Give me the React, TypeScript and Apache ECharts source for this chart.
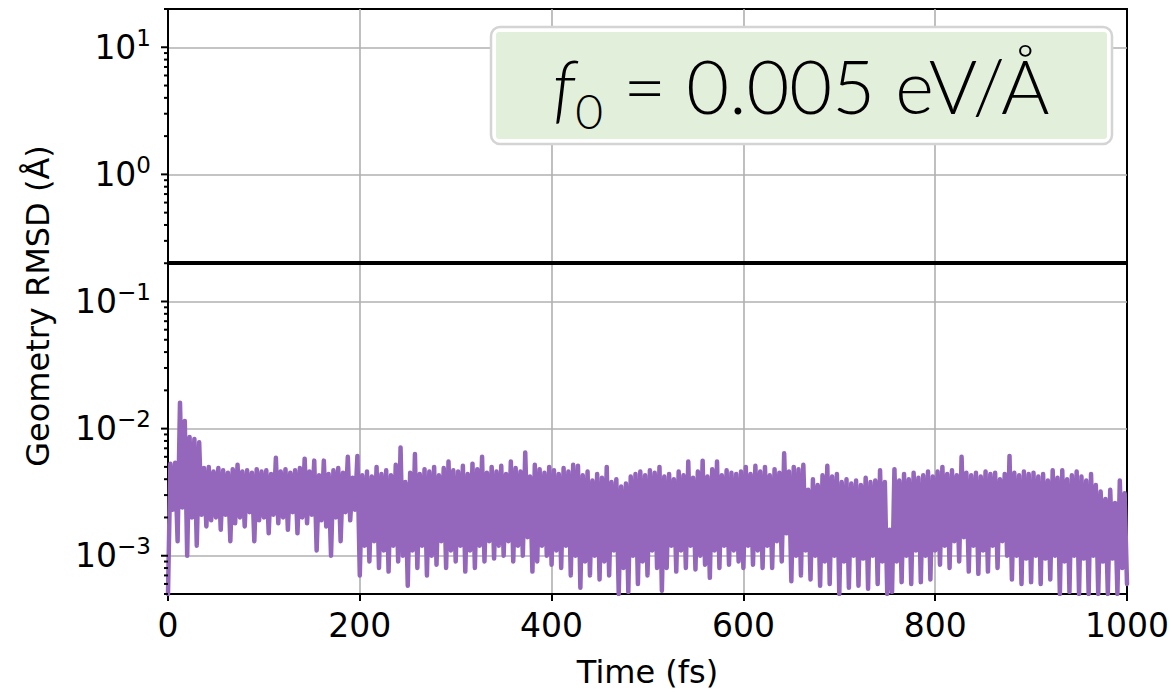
import React, { useEffect, useRef } from 'react';
import * as echarts from 'echarts';

// Sampling interval of the trajectory (fs)
const TIME_STEP = 2.5;

// Geometry RMSD samples in units of 1e-3 Å, one block per 100 fs
const rmsd000 = [0.5, 5.3, 2.3, 5.4, 1.3, 16.0, 2.4, 11.5, 1.0, 8.6, 2.0, 8.3, 1.2, 7.8, 2.1, 4.9, 1.7, 5.0, 1.9, 4.6, 2.0, 4.9, 1.6, 4.7, 2.1, 4.5, 1.3, 4.8, 1.8, 5.2, 2.0, 4.6, 1.7, 4.7, 2.2, 4.5, 1.3, 4.8, 1.9, 4.6];
const rmsd100 = [2.0, 4.7, 1.5, 4.4, 2.1, 5.9, 1.8, 4.6, 2.0, 4.8, 1.6, 4.5, 2.2, 4.7, 1.5, 4.9, 2.0, 5.8, 1.8, 4.6, 2.1, 5.6, 1.1, 4.3, 1.9, 5.6, 1.7, 4.4, 1.0, 4.7, 2.0, 4.9, 1.3, 4.5, 2.2, 6.0, 1.9, 4.1, 2.3, 6.1];
const rmsd200 = [0.7, 4.3, 1.2, 4.6, 0.9, 4.2, 1.3, 5.0, 0.8, 4.4, 1.1, 4.7, 0.75, 4.3, 1.2, 5.2, 0.9, 7.1, 1.0, 3.8, 0.58, 4.5, 1.1, 6.3, 0.8, 4.4, 1.2, 4.8, 0.7, 4.6, 1.0, 5.0, 0.85, 4.3, 1.3, 4.9, 0.8, 5.5, 1.1, 4.7];
const rmsd300 = [0.9, 4.6, 1.2, 5.1, 0.75, 4.4, 1.1, 5.3, 0.8, 4.8, 1.2, 6.0, 0.9, 4.5, 1.3, 5.0, 0.95, 4.6, 1.2, 5.1, 1.0, 4.4, 1.3, 5.5, 0.9, 4.9, 1.2, 4.6, 1.0, 6.5, 1.4, 4.2, 0.75, 5.2, 0.9, 4.8, 1.2, 4.5, 1.0, 5.0];
const rmsd400 = [0.85, 4.7, 1.1, 4.4, 0.8, 4.9, 1.2, 4.6, 0.7, 5.2, 1.0, 5.1, 0.56, 4.3, 0.9, 4.6, 0.7, 3.9, 1.0, 4.4, 0.65, 4.1, 0.9, 5.0, 0.7, 3.8, 1.1, 4.0, 0.5, 3.5, 0.8, 3.7, 0.52, 4.2, 1.0, 4.4, 0.6, 4.6, 0.9, 4.3];
const rmsd500 = [0.7, 4.7, 1.1, 4.5, 0.8, 5.0, 0.53, 4.2, 0.8, 4.4, 1.2, 4.0, 0.75, 4.6, 1.1, 4.3, 0.8, 5.5, 1.2, 4.1, 0.78, 4.6, 1.0, 5.6, 0.85, 4.2, 0.67, 4.8, 1.1, 5.5, 0.8, 4.3, 1.2, 4.7, 0.85, 4.5, 1.1, 4.4, 0.9, 4.6];
const rmsd600 = [0.8, 5.0, 1.2, 4.4, 0.85, 5.1, 1.1, 4.6, 0.8, 5.0, 1.2, 4.3, 0.8, 4.8, 1.3, 4.5, 0.9, 6.4, 1.5, 4.6, 0.63, 5.0, 1.0, 4.8, 0.7, 5.2, 1.1, 3.3, 0.65, 4.0, 1.0, 3.6, 0.58, 4.3, 0.9, 5.1, 0.6, 4.2, 1.0, 4.4];
const rmsd700 = [0.5, 3.8, 0.9, 4.0, 0.56, 3.7, 1.0, 3.9, 0.58, 3.6, 0.95, 4.1, 0.55, 3.8, 1.0, 3.9, 0.6, 4.7, 0.9, 3.8, 0.5, 1.6, 0.52, 4.8, 0.9, 3.9, 0.62, 4.4, 1.0, 4.0, 0.6, 4.5, 1.1, 4.1, 0.62, 4.3, 1.0, 4.6, 0.65, 4.2];
const rmsd800 = [1.1, 4.6, 0.85, 5.0, 1.2, 4.4, 0.8, 4.7, 1.3, 4.3, 0.9, 6.0, 1.4, 4.5, 0.75, 4.3, 1.2, 4.5, 0.72, 4.2, 1.1, 4.6, 0.75, 4.4, 1.2, 4.5, 0.8, 4.0, 1.3, 4.4, 1.0, 6.1, 0.65, 4.5, 1.0, 4.3, 0.6, 4.6, 0.95, 4.4];
const rmsd900 = [0.62, 4.5, 1.0, 4.2, 0.6, 4.4, 0.95, 3.9, 0.65, 4.7, 1.0, 4.1, 0.5, 4.7, 0.9, 4.0, 0.52, 4.3, 1.0, 4.6, 0.5, 4.2, 0.95, 3.9, 0.5, 4.4, 1.0, 3.6, 0.5, 3.2, 0.9, 2.8, 0.5, 3.3, 0.95, 2.6, 0.5, 3.9, 0.8, 3.1];
const rmsdEnd = 0.6; // sample at t = 1000 fs

const rmsdBlocks = [rmsd000, rmsd100, rmsd200, rmsd300, rmsd400, rmsd500, rmsd600, rmsd700, rmsd800, rmsd900];

// Horizontal reference level (Å)
const referenceLevel = 0.2;

// Axis ranges and ticks
const X_MIN = 0;
const X_MAX = 1000;
const X_INTERVAL = 200;
const Y_MIN = 5e-4;
const Y_MAX = 20;
const majorTickValues = [0.001, 0.01, 0.1, 1, 10];
const minorTickValues = [
  0.0005, 0.0006, 0.0007, 0.0008, 0.0009,
  0.002, 0.003, 0.004, 0.005, 0.006, 0.007, 0.008, 0.009,
  0.02, 0.03, 0.04, 0.05, 0.06, 0.07, 0.08, 0.09,
  0.2, 0.3, 0.4, 0.5, 0.6, 0.7, 0.8, 0.9,
  2, 3, 4, 5, 6, 7, 8, 9,
  20,
];

const FONT = 'DejaVu Sans';
const PURPLE = '#9467bd';
const GRID_GRAY = '#b0b0b0';

function buildSeries(): [number, number][] {
  const out: [number, number][] = [];
  rmsdBlocks.forEach((block, b) => {
    block.forEach((v, i) => {
      out.push([b * 100 + i * TIME_STEP, v * 1e-3]);
    });
  });
  out.push([X_MAX, rmsdEnd * 1e-3]);
  return out;
}

function decadeLabel(v: number): string {
  const e = Math.log10(v);
  const r = Math.round(e);
  if (Math.abs(e - r) > 1e-6) return '';
  return `{base|10}{sup|${r < 0 ? '\u2212' : ''}${Math.abs(r)}}`;
}

function tickRenderer(length: number) {
  return (_params: any, api: any) => {
    const p = api.coord([X_MIN, api.value(1)]);
    return {
      type: 'line',
      shape: { x1: p[0] - length, y1: p[1], x2: p[0], y2: p[1] },
      style: { stroke: '#000', lineWidth: 2 },
    };
  };
}

export default function App() {
  const ref = useRef<HTMLDivElement>(null);

  useEffect(() => {
    if (!ref.current) return;
    const chart = echarts.init(ref.current, undefined, { renderer: 'svg' });

    const option: any = {
      animation: false,
      backgroundColor: '#ffffff',
      grid: {
        left: 168,
        right: 45,
        top: 9,
        bottom: 103,
        show: true,
        borderColor: '#000',
        borderWidth: 2,
        backgroundColor: 'transparent',
        containLabel: false,
        outerBoundsMode: 'none',
      },
      xAxis: {
        type: 'value',
        min: X_MIN,
        max: X_MAX,
        interval: X_INTERVAL,
        name: 'Time (fs)',
        nameLocation: 'middle',
        nameGap: 62,
        nameTextStyle: { fontSize: 32, fontFamily: FONT, color: '#000' },
        axisLine: { show: true, onZero: false, lineStyle: { color: '#000', width: 2 } },
        axisTick: { show: true, length: 7, lineStyle: { color: '#000', width: 2 } },
        axisLabel: {
          fontSize: 33,
          fontFamily: FONT,
          color: '#000',
          margin: 15,
          formatter: (v: number) => String(v),
        },
        splitLine: {
          show: true,
          showMinLine: false,
          showMaxLine: false,
          lineStyle: { color: GRID_GRAY, width: 1.6 },
        },
      },
      yAxis: {
        type: 'log',
        logBase: 10,
        min: Y_MIN,
        max: Y_MAX,
        axisLine: { show: true, onZero: false, lineStyle: { color: '#000', width: 2 } },
        axisTick: { show: false },
        axisLabel: {
          margin: 17,
          formatter: decadeLabel,
          rich: {
            base: { fontSize: 33, fontFamily: FONT, color: '#000', lineHeight: 42 },
            sup: { fontSize: 23, fontFamily: FONT, color: '#000', lineHeight: 23, verticalAlign: 'top' },
          },
        },
        splitLine: {
          show: true,
          showMinLine: false,
          showMaxLine: false,
          lineStyle: { color: GRID_GRAY, width: 1.6 },
        },
      },
      series: [
        {
          name: 'RMSD',
          type: 'line',
          data: buildSeries(),
          showSymbol: false,
          symbol: 'none',
          z: 2,
          lineStyle: { color: PURPLE, width: 4.5, join: 'round', cap: 'round' },
          markLine: {
            silent: true,
            symbol: ['none', 'none'],
            label: { show: false },
            lineStyle: { color: '#000', width: 4, type: 'solid' },
            data: [{ yAxis: referenceLevel }],
          },
        },
        {
          name: 'major ticks',
          type: 'custom',
          coordinateSystem: 'cartesian2d',
          clip: false,
          silent: true,
          z: 5,
          data: majorTickValues.map((v) => [X_MIN, v]),
          renderItem: tickRenderer(7),
        },
        {
          name: 'minor ticks',
          type: 'custom',
          coordinateSystem: 'cartesian2d',
          clip: false,
          silent: true,
          z: 5,
          data: minorTickValues.map((v) => [X_MIN, v]),
          renderItem: tickRenderer(4),
        },
      ],
      graphic: [
        {
          type: 'text',
          x: 38,
          y: 306,
          rotation: Math.PI / 2,
          z: 50,
          style: {
            text: 'Geometry RMSD (Å)',
            fontSize: 32,
            fontFamily: FONT,
            fill: '#000',
            align: 'center',
            verticalAlign: 'middle',
          },
        },
        {
          type: 'group',
          x: 491,
          y: 27,
          z: 100,
          children: [
            {
              type: 'rect',
              shape: { x: 0, y: 0, width: 621, height: 117, r: 9 },
              style: { fill: '#ffffff', stroke: '#d4d4d4', lineWidth: 2.5 },
              z: 100,
            },
            {
              type: 'rect',
              shape: { x: 5, y: 5, width: 611, height: 107, r: 3 },
              style: { fill: '#e2efda' },
              z: 101,
            },
            {
              type: 'text',
              x: 310,
              y: 58,
              z: 102,
              style: {
                text: '{f|f}{sub|0}{m| = 0.005 eV/Å}',
                align: 'center',
                verticalAlign: 'middle',
                fill: '#000',
                rich: {
                  f: { fontFamily: 'Lato', fontStyle: 'italic', fontWeight: 300, fontSize: 74, lineHeight: 98, fill: '#000' },
                  sub: { fontFamily: 'Lato', fontWeight: 300, fontSize: 48, lineHeight: 48, verticalAlign: 'bottom', fill: '#000' },
                  m: { fontFamily: 'Lato', fontWeight: 300, fontSize: 74, lineHeight: 98, fill: '#000' },
                },
              },
            },
          ],
        },
      ],
    };

    chart.setOption(option);
    return () => chart.dispose();
  }, []);

  return (
    <div
      ref={ref}
      style={{ position: 'absolute', left: 0, top: 0, width: 1172, height: 697, background: '#fff' }}
    />
  );
}
